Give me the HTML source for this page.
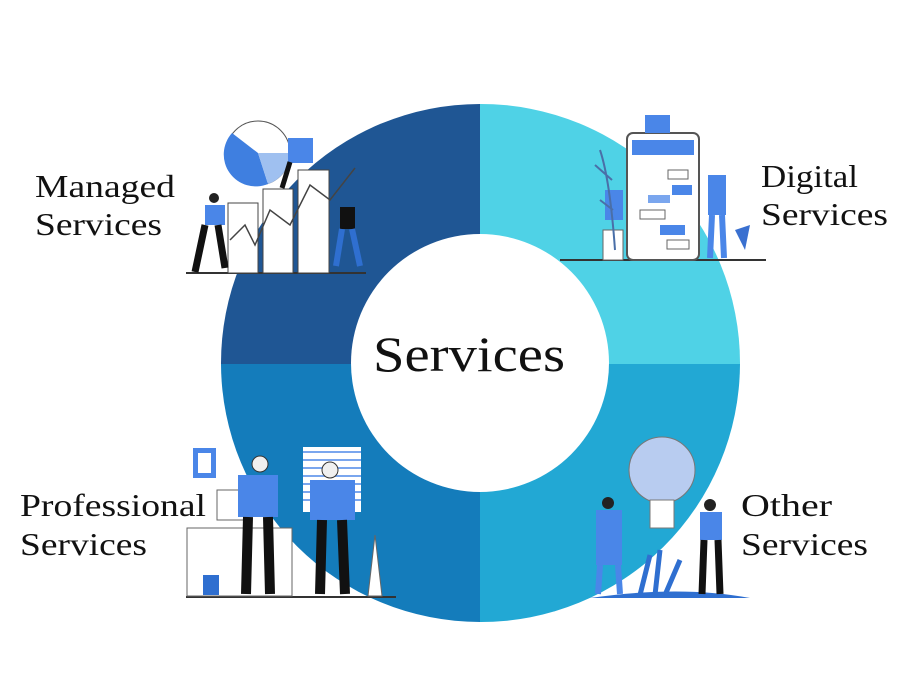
<!DOCTYPE html>
<html><head><meta charset="utf-8"><style>
html,body{margin:0;padding:0;background:#fff;}
svg{display:block}
text{font-family:"Liberation Serif",serif;fill:#111;}
</style></head><body>
<svg width="922" height="692" viewBox="0 0 922 692" xmlns="http://www.w3.org/2000/svg">
<rect width="922" height="692" fill="#fff"/>
<path d="M480 364 L221 364 A259 259 0 0 1 480 104 Z" fill="#1f5694"/>
<path d="M480 364 L480 104 A259 259 0 0 1 740 364 Z" fill="#4fd2e6"/>
<path d="M480 364 L740 364 A259 259 0 0 1 480 622 Z" fill="#22a8d4"/>
<path d="M480 364 L480 622 A259 259 0 0 1 221 364 Z" fill="#147cbb"/>
<circle cx="480" cy="363" r="129" fill="#fff"/>
<text x="373" y="371" font-size="50" textLength="192" lengthAdjust="spacingAndGlyphs">Services</text>

<!-- Managed illustration -->
<rect x="186" y="272" width="180" height="2" fill="#333"/>
<circle cx="258" cy="153" r="32" fill="#fff" stroke="#555" stroke-width="1"/>
<path d="M258 153 L232 133 A32 32 0 0 0 268 184 Z" fill="#3f7fe0"/>
<path d="M258 153 L290 153 A32 32 0 0 1 268 184 Z" fill="#9fc0f0"/>
<rect x="228" y="203" width="30" height="70" fill="#fff" stroke="#444"/>
<rect x="263" y="189" width="30" height="84" fill="#fff" stroke="#444"/>
<rect x="298" y="170" width="31" height="103" fill="#fff" stroke="#444"/>
<polyline points="230,240 245,225 255,245 270,210 290,225 310,185 330,200 355,168" fill="none" stroke="#444" stroke-width="1.5"/>
<rect x="205" y="205" width="20" height="20" fill="#4a86e8"/>
<path d="M205 225 L195 272 M218 225 L225 268" stroke="#111" stroke-width="7"/>
<circle cx="214" cy="198" r="5" fill="#222"/>
<rect x="340" y="207" width="15" height="22" fill="#111"/>
<path d="M342 229 L336 266 M352 229 L360 266" stroke="#2f6fd0" stroke-width="6"/>
<rect x="288" y="138" width="25" height="25" fill="#4a86e8"/>
<path d="M290 162 L282 188" stroke="#111" stroke-width="5"/>

<!-- Digital illustration -->
<rect x="560" y="259" width="206" height="2" fill="#333"/>
<rect x="627" y="133" width="72" height="127" rx="6" fill="#fff" stroke="#555" stroke-width="2"/>
<rect x="632" y="140" width="62" height="15" fill="#4a86e8"/>
<rect x="668" y="170" width="20" height="9" fill="#fff" stroke="#666"/>
<rect x="672" y="185" width="20" height="10" fill="#4a86e8"/>
<rect x="648" y="195" width="22" height="8" fill="#7aa6ee"/>
<rect x="640" y="210" width="25" height="9" fill="#fff" stroke="#666"/>
<rect x="660" y="225" width="25" height="10" fill="#4a86e8"/>
<rect x="667" y="240" width="22" height="9" fill="#fff" stroke="#666"/>
<rect x="645" y="115" width="25" height="18" fill="#4a86e8"/>
<rect x="605" y="190" width="18" height="30" fill="#4a86e8"/>
<rect x="603" y="230" width="20" height="30" fill="#fff" stroke="#666"/>
<rect x="708" y="175" width="18" height="40" fill="#4a86e8"/>
<path d="M712 215 L710 258 M722 215 L724 258" stroke="#4a86e8" stroke-width="6"/>
<path d="M600 150 Q610 180 615 250 M595 165 L612 180 M600 200 L613 210" stroke="#4a6fa8" stroke-width="2" fill="none"/>
<path d="M735 230 L750 225 L745 250 Z" fill="#3a70d0"/>

<!-- Professional illustration -->
<rect x="186" y="596" width="210" height="2" fill="#333"/>
<rect x="193" y="448" width="23" height="30" fill="#4a86e8"/>
<rect x="198" y="453" width="13" height="20" fill="#fff"/>
<rect x="187" y="528" width="105" height="68" fill="#fff" stroke="#666"/>
<rect x="217" y="490" width="30" height="30" fill="#fff" stroke="#666"/>
<rect x="303" y="447" width="58" height="65" fill="#fff"/>
<g stroke="#7aa6ee" stroke-width="2"><line x1="303" y1="452" x2="361" y2="452"/><line x1="303" y1="460" x2="361" y2="460"/><line x1="303" y1="468" x2="361" y2="468"/><line x1="303" y1="476" x2="361" y2="476"/><line x1="303" y1="484" x2="361" y2="484"/><line x1="303" y1="492" x2="361" y2="492"/><line x1="303" y1="500" x2="361" y2="500"/></g>
<circle cx="260" cy="464" r="8" fill="#f0f0f0" stroke="#333"/>
<rect x="238" y="475" width="40" height="42" fill="#4a86e8"/>
<path d="M248 517 L246 594 M268 517 L270 594" stroke="#111" stroke-width="10"/>
<circle cx="330" cy="470" r="8" fill="#f0f0f0" stroke="#333"/>
<rect x="310" y="480" width="45" height="40" fill="#4a86e8"/>
<path d="M322 520 L320 594 M342 520 L345 594" stroke="#111" stroke-width="10"/>
<path d="M368 596 L375 535 L382 596 Z" fill="#fff" stroke="#666"/>
<rect x="203" y="575" width="16" height="20" fill="#2f6fd0"/>

<!-- Other illustration -->
<path d="M590 598 Q680 585 750 598 Z" fill="#2f6fd0"/>
<circle cx="662" cy="470" r="33" fill="#b8ccf0" stroke="#777"/>
<rect x="650" y="500" width="24" height="28" fill="#fff" stroke="#777"/>
<rect x="596" y="510" width="26" height="55" fill="#4a86e8"/>
<path d="M600 565 L598 594 M618 565 L620 594" stroke="#4a86e8" stroke-width="6"/>
<circle cx="608" cy="503" r="6" fill="#222"/>
<rect x="700" y="512" width="22" height="28" fill="#4a86e8"/>
<path d="M704 540 L702 594 M718 540 L720 594" stroke="#111" stroke-width="7"/>
<circle cx="710" cy="505" r="6" fill="#222"/>
<path d="M640 595 L650 555 M655 595 L660 550 M665 595 L680 560" stroke="#2f6fd0" stroke-width="5"/>

<!-- labels -->
<text x="35" y="197" font-size="32" textLength="140" lengthAdjust="spacingAndGlyphs">Managed</text>
<text x="35" y="235" font-size="32" textLength="127" lengthAdjust="spacingAndGlyphs">Services</text>
<text x="761" y="187" font-size="32" textLength="97" lengthAdjust="spacingAndGlyphs">Digital</text>
<text x="761" y="225" font-size="32" textLength="127" lengthAdjust="spacingAndGlyphs">Services</text>
<text x="20" y="516" font-size="32" textLength="186" lengthAdjust="spacingAndGlyphs">Professional</text>
<text x="20" y="555" font-size="32" textLength="127" lengthAdjust="spacingAndGlyphs">Services</text>
<text x="741" y="516" font-size="32" textLength="91" lengthAdjust="spacingAndGlyphs">Other</text>
<text x="741" y="555" font-size="32" textLength="127" lengthAdjust="spacingAndGlyphs">Services</text>
</svg>
</body></html>
